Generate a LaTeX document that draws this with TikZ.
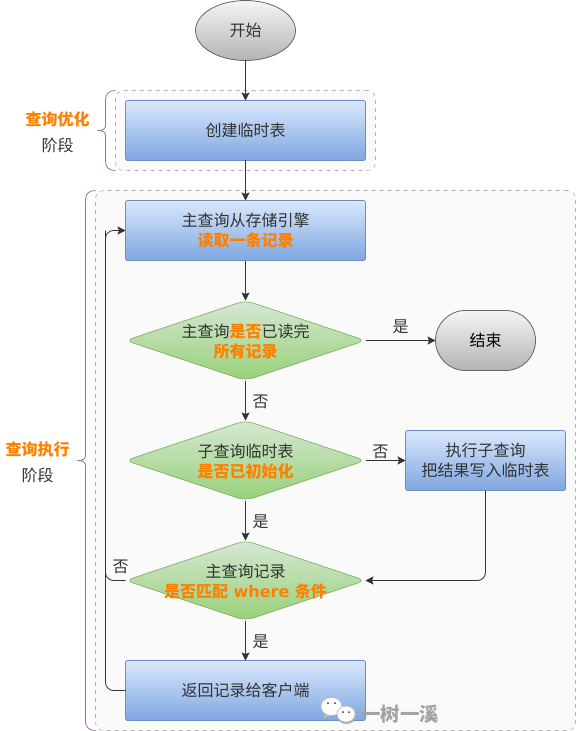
\documentclass[tikz,border=0pt]{standalone}
\usepackage{fontspec}
\usepackage{xcolor}
\usepackage{tikz}
\usetikzlibrary{arrows.meta,shapes.geometric}
\setmainfont{Noto Sans CJK SC}
\newfontfamily\latinbold{DejaVu Sans}
\definecolor{inkC}{HTML}{333333}
\definecolor{hotC}{HTML}{FF8000}
\definecolor{braceC}{HTML}{9673A6}
\definecolor{frameC}{HTML}{B3B3B3}
\definecolor{paneC}{HTML}{FAFAFA}
\definecolor{blueT}{HTML}{DAE8FC}
\definecolor{blueB}{HTML}{7EA6E0}
\definecolor{blueL}{HTML}{6C8EBF}
\definecolor{greenT}{HTML}{D5E8D4}
\definecolor{greenB}{HTML}{97D077}
\definecolor{greenL}{HTML}{82B366}
\definecolor{grayT}{HTML}{F5F5F5}
\definecolor{grayB}{HTML}{B3B3B3}
\definecolor{grayL}{HTML}{666666}
\definecolor{markC}{HTML}{8C8C8C}
\newcommand{\hot}[1]{\textcolor{hotC}{\textbf{#1}}}
\tikzset{
  base/.style={align=center, text=inkC, inner sep=0pt, outer sep=0pt, font=\fontsize{12}{15}\selectfont},
  flowbox/.style={base, rectangle, rounded corners=1.5pt, draw=blueL, line width=0.6pt,
                  top color=blueT, bottom color=blueB, minimum width=180pt, minimum height=45pt},
  decide/.style={base, diamond, aspect=3, rounded corners=6pt, draw=greenL, line width=0.5pt,
                 top color=greenT, bottom color=greenB, minimum width=180pt, minimum height=60pt},
  terminal/.style={base, draw=grayL, line width=0.6pt, top color=grayT, bottom color=grayB,
                   minimum width=75pt, minimum height=45pt},
  pane/.style={rectangle, rounded corners=6pt, draw=frameC, dashed, line width=0.5pt, fill=paneC, outer sep=0pt},
  bracket/.style={draw=braceC, line width=0.6pt},
  arr/.style={-{Stealth[length=6pt,width=6pt,inset=1.2pt]}, line width=0.6pt, draw=inkC},
  wire/.style={line width=0.6pt, draw=inkC},
  tag/.style={base},
  bubble/.style={fill=white, draw=markC!60, line width=0.4pt},
  eye/.style={fill=inkC, circle, inner sep=0pt, minimum size=1.5pt},
}
\begin{document}
\begin{tikzpicture}[x=0.75pt,y=-0.75pt]
\useasboundingbox (0,0) rectangle (576,731);
\node[pane, minimum width=195pt, minimum height=60pt] (optpane) at (245.5,130.5) {};
\node[pane, minimum width=360pt, minimum height=405pt] (runpane) at (335.5,460.5) {};
\draw[bracket, shift={(optpane.north west)}] (0,0) .. controls (-6,0) and (-10,3) .. (-10,9) -- (-10,35) .. controls (-10,38) and (-12,40) .. (-18,40)
  .. controls (-12,40) and (-10,42) .. (-10,45) -- (-10,71) .. controls (-10,77) and (-6,80) .. (0,80);
\draw[bracket, shift={(runpane.north west)}] (0,0) .. controls (-6,0) and (-10,3) .. (-10,9) -- (-10,265) .. controls (-10,268) and (-12,270) .. (-18,270)
  .. controls (-12,270) and (-10,272) .. (-10,275) -- (-10,531) .. controls (-10,537) and (-6,540) .. (0,540);
\node[tag] (optname) at (57.5,119) {\hot{查询优化}};
\node[tag] (optstage) at (57.5,145) {阶段};
\node[tag] (runname) at (37.5,449) {\hot{查询执行}};
\node[tag] (runstage) at (37.5,475) {阶段};
\node[terminal, ellipse] (start) at (245.5,30.5) {开始};
\node[flowbox] (temp) at (245.5,130.5) {创建临时表};
\node[flowbox] (read) at (245.5,230.5) {主查询从存储引擎\\\hot{读取一条记录}};
\node[decide] (done) at (245.5,340.5) {};
\node[base] (donetext) at (245.5,341.5) {主查询\hot{是否}已读完\\\hot{所有记录}};
\node[terminal, rectangle, rounded corners=22.4pt, text=black] (finish) at (485.5,340.5) {结束};
\node[decide] (init) at (245.5,460.5) {};
\node[base] (inittext) at (245.5,461.5) {子查询临时表\\\hot{是否已初始化}};
\node[flowbox, minimum width=120pt] (sub) at (485.5,460.5) {执行子查询\\把结果写入临时表};
\node[decide] (match) at (245.5,580.5) {};
\node[base] (matchtext) at (245.5,581.5) {主查询记录\\\hot{是否匹配{\latinbold\ where\ }条件}};
\node[flowbox] (back) at (245.5,690.5) {返回记录给客户端};
\coordinate (loopup) at (105.5,230.5);
\draw[arr] (start) -- (temp);
\draw[arr] (temp) -- (read);
\draw[arr] (read) -- (done);
\draw[arr] (done) -- (finish);
\draw[arr] (done) -- (init);
\draw[arr] (init) -- (sub);
\draw[arr] (init) -- (match);
\draw[arr, rounded corners=6pt] (sub.south) |- (match.east);
\draw[arr] (match) -- (back);
\draw[wire, rounded corners=6pt] (match.west) -| (loopup);
\draw[arr, rounded corners=6pt] (back.west) -| (loopup) -- (read.west);
\node[tag] (yes1) at (400.5,326.5) {是};
\node[tag] (no1) at (260.5,402) {否};
\node[tag] (no2) at (380.5,452) {否};
\node[tag] (yes2) at (260.5,522) {是};
\node[tag] (no3) at (120.5,567) {否};
\node[tag] (yes3) at (260.5,642) {是};
\fill[markC!60] (325,713) -- (323,719) -- (331,715) -- cycle;
\draw[bubble] (331.5,706.5) ellipse (10.5 and 9);
\fill[markC!70] (346.5,715) ellipse (10 and 9);
\draw[bubble] (346,714) ellipse (9 and 8);
\node[eye] (eyea) at (328,703) {};
\node[eye] (eyeb) at (335,703) {};
\node[eye] (eyec) at (343,712) {};
\node[eye] (eyed) at (349,712) {};
\node[base, text=markC!80, font=\fontsize{14.5}{15}\selectfont\bfseries] (mark) at (400,714) {一树一溪};
\end{tikzpicture}
\end{document}
